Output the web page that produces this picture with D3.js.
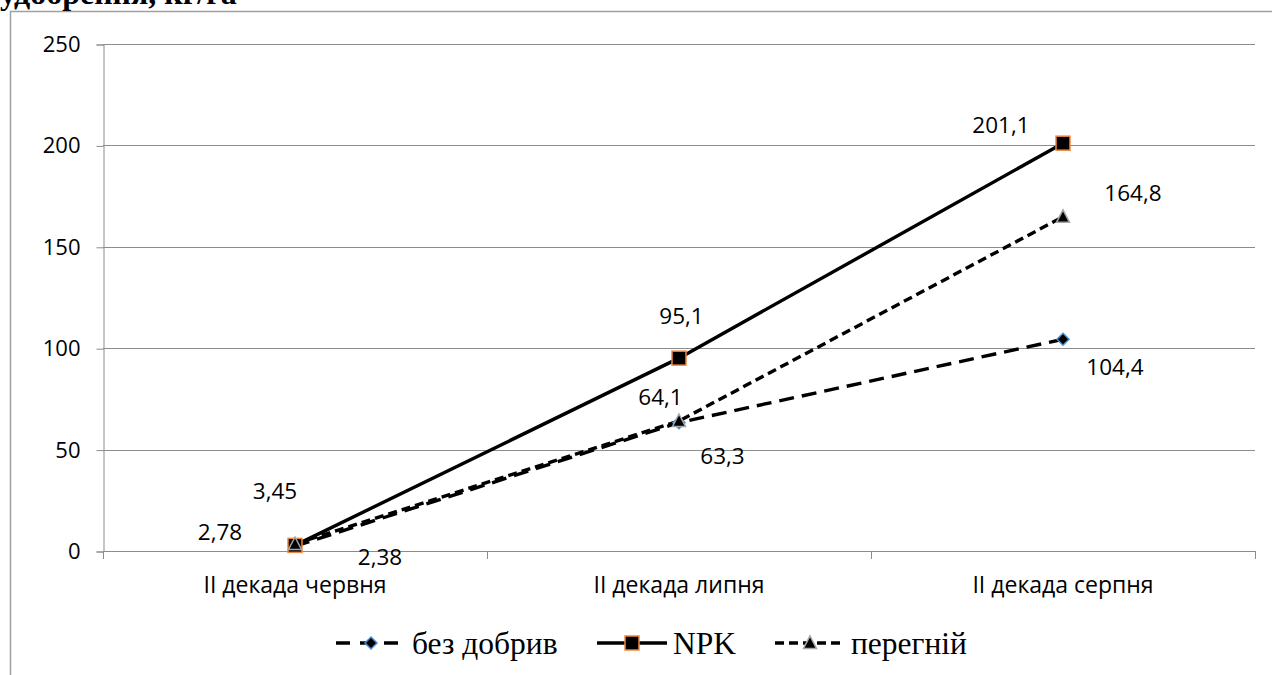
<!DOCTYPE html>
<html><head><meta charset="utf-8">
<script src="https://cdn.jsdelivr.net/npm/d3@7"></script>
<style>html,body{margin:0;padding:0;background:#fff;overflow:hidden}</style>
</head><body>
<svg id="c" width="1272" height="675"></svg>
<script>
const categories = ["II декада червня", "II декада липня", "II декада серпня"];
const seriesNames = ["без добрив", "NPK", "перегній"];
const bezDobryv = [2.38, 63.3, 104.4];
const npk = [2.78, 95.1, 201.1];
const perehnii = [3.45, 64.1, 164.8];
const yTicks = [0, 50, 100, 150, 200, 250];
const valueLabels = [["2,38", "63,3", "104,4"], ["2,78", "95,1", "201,1"], ["3,45", "64,1", "164,8"]];
const titleText = "удобрення, кг/га";

// layout (not data)
const labelOffsets = [
  [[85, 10], [43.5, 32.5], [52, 27]],
  [[-75, -14], [2.5, -43], [-62, -19]],
  [[-20, -54], [-18.5, -24.5], [70, -24]]
];
const styles = [
  {dash: "15,8", marker: "diamond", stroke: "#4a8ed0"},
  {dash: null, marker: "square", stroke: "#f0883e"},
  {dash: "9,5", marker: "triangle", stroke: "#a6a6a6"}
];

const svg = d3.select("#c");
const L = 103, R = 1255, T = 44, B = 551;
const grid = "#8c8c8c";

// outer frame
svg.append("path").attr("d", "M10.5,676 V11.5 H1280").attr("fill", "none").attr("stroke", "#a0a0a0").attr("stroke-width", 1.5);

// title (cut off at top, as in the reference)
svg.append("text").attr("x", 0).attr("y", 4).attr("font-family", "Liberation Serif, serif")
  .attr("font-weight", "bold").attr("font-size", 32).attr("fill", "#000").text(titleText);

const x = d3.scaleBand().domain(categories).range([L, R]);
const y = d3.scaleLinear().domain([0, 250]).range([B, T]);
const cx = c => x(c) + x.bandwidth() / 2;

// gridlines
svg.append("g").selectAll("line").data(yTicks).join("line")
  .attr("x1", L).attr("x2", R).attr("y1", d => Math.round(y(d)) + 0.5).attr("y2", d => Math.round(y(d)) + 0.5)
  .attr("stroke", grid).attr("stroke-width", 1);

// y axis
const yAxis = svg.append("g").attr("transform", `translate(${L + 0.5},0.5)`)
  .call(d3.axisLeft(y).tickValues(yTicks).tickSize(7).tickPadding(16).tickFormat(d3.format("d")));
yAxis.select(".domain").attr("stroke", grid);
yAxis.selectAll(".tick line").attr("stroke", grid);
yAxis.selectAll("text").attr("font-family", "Open Sans, sans-serif").attr("font-size", 22).attr("fill", "#000");

// x axis
const xAxis = svg.append("g").attr("transform", `translate(0,${Math.round(B) + 0.5})`)
  .call(d3.axisBottom(x).tickSize(0).tickPadding(25));
xAxis.select(".domain").attr("stroke", grid).attr("d", `M${L},0H${R}`);
xAxis.selectAll("text").attr("font-family", "Open Sans, sans-serif").attr("font-size", 23).attr("fill", "#000");
svg.append("g").selectAll("line").data(d3.range(categories.length + 1)).join("line")
  .attr("x1", i => L + i * x.step() + 0.5).attr("x2", i => L + i * x.step() + 0.5)
  .attr("y1", B).attr("y2", B + 8).attr("stroke", grid);

const data = [bezDobryv, npk, perehnii];
const line = d3.line().x((d, i) => cx(categories[i])).y(d => y(d));

function marker(g, type, px, py, stroke) {
  if (type === "diamond") {
    g.append("path").attr("d", `M${px},${py - 6}L${px + 6},${py}L${px},${py + 6}L${px - 6},${py}Z`)
      .attr("fill", "#000").attr("stroke", stroke).attr("stroke-width", 1.5);
  } else if (type === "square") {
    g.append("rect").attr("x", px - 7).attr("y", py - 7).attr("width", 14).attr("height", 14)
      .attr("fill", "#000").attr("stroke", stroke).attr("stroke-width", 1.5);
  } else {
    g.append("path").attr("d", `M${px},${py - 7}L${px + 6.5},${py + 5.5}L${px - 6.5},${py + 5.5}Z`)
      .attr("fill", "#000").attr("stroke", stroke).attr("stroke-width", 1.5);
  }
}

data.forEach((vals, s) => {
  const p = svg.append("path").datum(vals).attr("d", line).attr("fill", "none")
    .attr("stroke", "#000").attr("stroke-width", 3.4);
  if (styles[s].dash) p.attr("stroke-dasharray", styles[s].dash);
});
data.forEach((vals, s) => {
  const g = svg.append("g");
  vals.forEach((v, i) => marker(g, styles[s].marker, cx(categories[i]), y(v), styles[s].stroke));
});
data.forEach((vals, s) => {
  vals.forEach((v, i) => {
    svg.append("text").attr("x", cx(categories[i]) + labelOffsets[s][i][0]).attr("y", y(v) + labelOffsets[s][i][1])
      .attr("text-anchor", "middle").attr("dominant-baseline", "central")
      .attr("font-family", "Open Sans, sans-serif").attr("font-size", 22.5).attr("fill", "#000")
      .text(valueLabels[s][i]);
  });
});

// legend
const legendX = [336, 597, 775];
const legY = 643;
seriesNames.forEach((name, s) => {
  const g = svg.append("g");
  const x0 = legendX[s], x1 = x0 + 70;
  const l = g.append("line").attr("x1", x0).attr("x2", x1).attr("y1", legY).attr("y2", legY)
    .attr("stroke", "#000").attr("stroke-width", 3.4);
  if (styles[s].dash) l.attr("stroke-dasharray", s === 0 ? "14,10" : "9,5");
  marker(g, styles[s].marker, (x0 + x1) / 2, legY, styles[s].stroke);
  g.append("text").attr("x", x1 + 6).attr("y", legY).attr("dominant-baseline", "central")
    .attr("font-family", "Liberation Serif, serif").attr("font-size", 31.5).attr("fill", "#000").text(name);
});
</script>
</body></html>
